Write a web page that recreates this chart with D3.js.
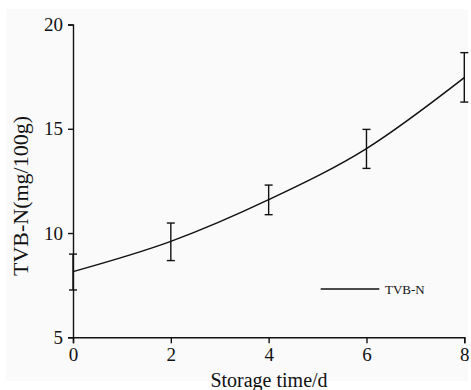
<!DOCTYPE html>
<html>
<head>
<meta charset="utf-8">
<script src="https://cdn.jsdelivr.net/npm/d3@7"></script>
<style>
  body { margin: 0; background: #ffffff; }
  text { font-family: "Liberation Serif", "Times New Roman", serif; fill: #111; }
</style>
</head>
<body>
<div id="canvas"></div>
<script>
"use strict"

// data
let days = [0, 2, 4, 6, 8]
let tvbnMean = [8.15, 9.6, 11.6, 14.05, 17.45]
let tvbnLow = [7.27, 8.68, 10.88, 13.1, 16.28]
let tvbnHigh = [8.99, 10.48, 12.3, 14.97, 18.65]
let xTicks = [0, 2, 4, 6, 8]
let yTicks = [5, 10, 15, 20]

let drawing = d3.select("#canvas")
    .append("svg")
    .attr("width", 471)
    .attr("height", 390)

// light grey panel behind everything
drawing.append("rect")
    .attr("x", 6)
    .attr("y", 9)
    .attr("width", 462)
    .attr("height", 372)
    .attr("fill", "#fafafa")

let x = d3.scaleLinear().domain([0, 8]).range([73, 464.3])
let y = d3.scaleLinear().domain([5, 20]).range([337.3, 24.5])

// x axis
let xAxis = drawing.append("g")
    .attr("transform", "translate(0," + y(5) + ")")
    .call(d3.axisBottom(x).tickValues(xTicks).tickSize(6).tickPadding(4).tickFormat(d3.format("d")))
xAxis.selectAll("text").attr("font-size", 19).attr("font-family", "Liberation Serif")

// y axis
let yAxis = drawing.append("g")
    .attr("transform", "translate(" + x(0) + ",0)")
    .call(d3.axisLeft(y).tickValues(yTicks).tickSize(5).tickPadding(5).tickFormat(d3.format("d")))
yAxis.selectAll("text").attr("font-size", 19).attr("font-family", "Liberation Serif")

drawing.selectAll(".domain, .tick line")
    .attr("stroke", "#111")
    .attr("stroke-width", 1.4)

// axis titles
drawing.append("text")
    .attr("x", 269)
    .attr("y", 387)
    .attr("text-anchor", "middle")
    .attr("font-size", 20)
    .text("Storage time/d")

drawing.append("text")
    .attr("transform", "translate(28,196) rotate(-90)")
    .attr("text-anchor", "middle")
    .attr("font-size", 22)
    .text("TVB-N(mg/100g)")

let points = days.map((d, i) => ({ day: d, mean: tvbnMean[i], low: tvbnLow[i], high: tvbnHigh[i] }))

// the smooth curve
let line = d3.line()
    .x(d => x(d.day))
    .y(d => y(d.mean))
    .curve(d3.curveMonotoneX)

drawing.append("path")
    .datum(points)
    .attr("d", line)
    .attr("fill", "none")
    .attr("stroke", "#111")
    .attr("stroke-width", 1.5)

// error bars
let bars = drawing.append("g").selectAll("g")
    .data(points)
    .join("g")
    .attr("stroke", "#111")
    .attr("stroke-width", 1.4)

bars.append("line")
    .attr("x1", d => x(d.day))
    .attr("x2", d => x(d.day))
    .attr("y1", d => y(d.low))
    .attr("y2", d => y(d.high))

bars.append("line")
    .attr("x1", d => x(d.day) - 4)
    .attr("x2", d => x(d.day) + 4)
    .attr("y1", d => y(d.high))
    .attr("y2", d => y(d.high))

bars.append("line")
    .attr("x1", d => x(d.day) - 4)
    .attr("x2", d => x(d.day) + 4)
    .attr("y1", d => y(d.low))
    .attr("y2", d => y(d.low))

// legend
drawing.append("line")
    .attr("x1", 320.7)
    .attr("x2", 379.3)
    .attr("y1", 289)
    .attr("y2", 289)
    .attr("stroke", "#111")
    .attr("stroke-width", 1.5)

drawing.append("text")
    .attr("x", 385)
    .attr("y", 293.5)
    .attr("font-size", 13)
    .text("TVB-N")
</script>
</body>
</html>
